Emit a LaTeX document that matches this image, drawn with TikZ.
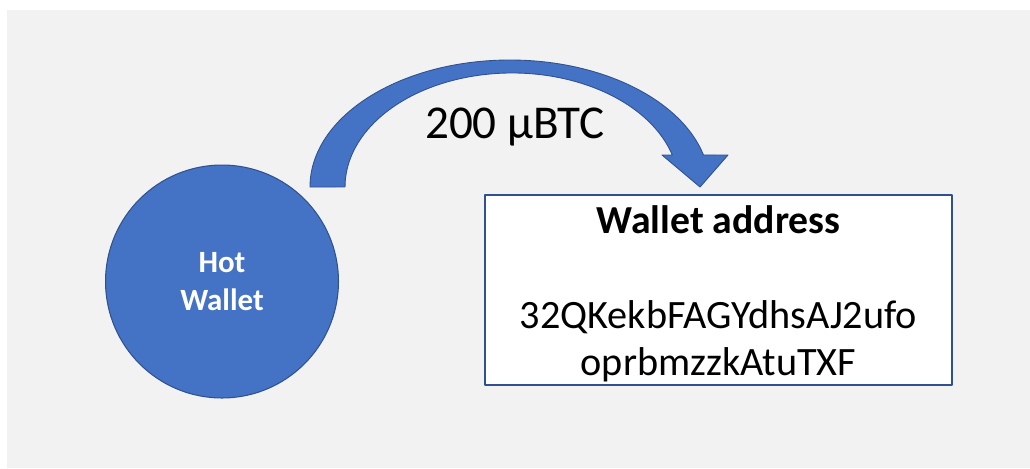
\documentclass[tikz,border=0pt]{standalone}
\usepackage{fontspec}
\setmainfont{Carlito}
\usetikzlibrary{positioning}
\definecolor{officeblue}{HTML}{4472C4}
\definecolor{darkblue}{HTML}{2F528F}
\definecolor{bggray}{HTML}{F2F2F2}

\begin{document}
\begin{tikzpicture}[x=0.02cm, y=0.02cm, line join=round,
    wallet/.style={circle, fill=officeblue, draw=darkblue, line width=0.6pt, minimum size=4.66cm, inner sep=0pt, text=white, align=center, font=\fontsize{17.6}{21.5}\selectfont\bfseries},
    addrbox/.style={rectangle, fill=white, draw=darkblue, line width=1.4pt, minimum width=9.34cm, minimum height=3.8cm, inner sep=0pt},
    boxtitle/.style={anchor=base, inner sep=0pt, font=\fontsize{22.6}{27}\selectfont\bfseries},
    keytext/.style={anchor=base, inner sep=0pt, align=center, font=\fontsize{22.9}{26.6}\selectfont},
    amount/.style={anchor=base, inner sep=0pt, font=\fontsize{26.8}{32}\selectfont}]
    \useasboundingbox (0,0) rectangle (1030,468);
    \fill[bggray] (7,0) rectangle (1030,458);

    \node[wallet] (hot) at (222,186.5) {Hot\\Wallet};
    \node[addrbox] (addr) at (718.5,178) {};
    \node[boxtitle] (title) at (718.5,235) {Wallet address};
    \node[keytext] (key) at (718.5,93) {32QKekbFAGYdhsAJ2ufo\\oprbmzzkAtuTXF};

    % curved block arrow
    \filldraw[fill=officeblue, draw=darkblue, line width=0.5pt]
      (310,281) arc[start angle=180, end angle=14.6, x radius=200, y radius=127]
      -- (728,313) -- (700,281) -- (662,313) -- (672.3,313)
      arc[start angle=16.3, end angle=180, x radius=167, y radius=114] -- cycle;

    \node[amount] (btc) at (515,330) {200 μBTC};
\end{tikzpicture}
\end{document}
